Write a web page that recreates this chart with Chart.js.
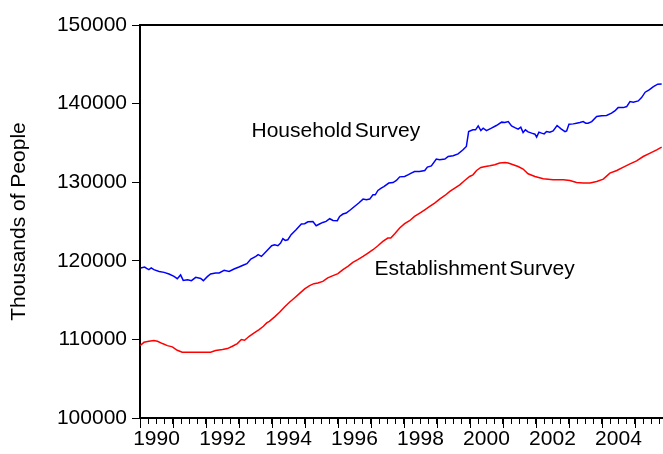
<!DOCTYPE html>
<html lang="en">
<head>
<meta charset="UTF-8">
<title>Household vs Establishment Survey</title>
<script src="https://cdn.jsdelivr.net/npm/chart.js"></script>
<style>
  html, body { margin:0; padding:0; background:#fff; }
  #wrap { width:663px; height:454px; position:relative; }
</style>
</head>
<body>
<div id="wrap"><canvas id="chart"></canvas></div>
<script>
// household survey (CPS), thousands of people
const householdDates = [
  1990.02, 1990.14, 1990.20, 1990.27, 1990.34, 1990.42, 1990.58, 1990.73, 1990.88,
  1991.03, 1991.13, 1991.23, 1991.31, 1991.44, 1991.56, 1991.69, 1991.84, 1991.92,
  1992.04, 1992.14, 1992.29, 1992.40, 1992.55, 1992.70, 1992.85,
  1993.00, 1993.14, 1993.24, 1993.36, 1993.51, 1993.58, 1993.68, 1993.86, 1993.99,
  1994.08, 1994.18, 1994.26, 1994.33, 1994.40, 1994.48, 1994.58, 1994.73, 1994.89, 1994.99,
  1995.09, 1995.24, 1995.34, 1995.44, 1995.54, 1995.64, 1995.75, 1995.85, 1995.98,
  1996.05, 1996.15, 1996.25, 1996.38, 1996.50, 1996.63, 1996.76, 1996.86, 1996.96,
  1997.06, 1997.13, 1997.21, 1997.31, 1997.39, 1997.54, 1997.67, 1997.77, 1997.87,
  1998.02, 1998.12, 1998.22, 1998.32, 1998.47, 1998.63, 1998.71, 1998.83, 1998.98,
  1999.08, 1999.24, 1999.34, 1999.49, 1999.64, 1999.79, 1999.89, 1999.96,
  2000.09, 2000.17, 2000.25, 2000.33, 2000.40, 2000.50, 2000.65, 2000.80, 2000.96,
  2001.06, 2001.16, 2001.26, 2001.36, 2001.46, 2001.54, 2001.61, 2001.68, 2001.76, 2001.87, 2001.97,
  2002.02, 2002.09, 2002.17, 2002.25, 2002.32, 2002.42, 2002.52, 2002.64, 2002.76, 2002.88, 2002.93,
  2003.00, 2003.13, 2003.23, 2003.33, 2003.43, 2003.51, 2003.58, 2003.69, 2003.84, 2003.99,
  2004.14, 2004.29, 2004.39, 2004.49, 2004.65, 2004.75, 2004.85, 2004.95,
  2005.10, 2005.20, 2005.31, 2005.43, 2005.56, 2005.69, 2005.81
];
const householdValues = [
  119090, 119210, 119040, 118870, 119090, 118870, 118650, 118530, 118320,
  118020, 117730, 118200, 117510, 117600, 117470, 117890, 117760, 117470,
  117980, 118320, 118450, 118450, 118780, 118650, 118960,
  119210, 119470, 119630, 120230, 120560, 120780, 120560, 121350, 121920,
  122050, 121920, 122260, 122810, 122590, 122680, 123320, 123950, 124680, 124720,
  124970, 125010, 124460, 124680, 124880, 125010, 125350, 125130, 125100,
  125640, 125950, 126070, 126490, 126910, 127350, 127850, 127760, 127850,
  128400, 128400, 128950, 129250, 129450, 129890, 129960, 130220, 130680,
  130730, 130940, 131160, 131360, 131360, 131490, 131920, 132080, 132940,
  132850, 132940, 133270, 133360, 133610, 134120, 134540, 136440,
  136660, 136660, 137170, 136570, 136870, 136570, 136870, 137210, 137640,
  137590, 137710, 137170, 136950, 136750, 137000, 136320, 136660, 136400, 136240, 136110,
  135730, 136370, 136240, 136150, 136440, 136370, 136530, 137210, 136790, 136440, 136530,
  137380, 137420, 137510, 137590, 137710, 137510, 137510, 137710, 138350, 138440,
  138480, 138780, 139070, 139490, 139490, 139620, 140250, 140180,
  140340, 140760, 141450, 141740, 142160, 142470, 142500
];

// establishment survey (payrolls), thousands of people
const establishmentDates = [
  1990.00, 1990.12, 1990.27, 1990.42, 1990.53, 1990.68, 1990.83, 1990.98,
  1991.13, 1991.28, 1991.44, 1991.64, 1991.84,
  1992.04, 1992.14, 1992.29, 1992.50, 1992.65, 1992.80, 1992.95,
  1993.07, 1993.17, 1993.31, 1993.46, 1993.61, 1993.74, 1993.84, 1993.92,
  1994.08, 1994.23, 1994.38, 1994.53, 1994.68, 1994.83, 1994.99,
  1995.14, 1995.27, 1995.39, 1995.54, 1995.69, 1995.85,
  1996.00, 1996.15, 1996.30, 1996.45, 1996.60, 1996.76, 1996.91,
  1997.06, 1997.21, 1997.36, 1997.51, 1997.60, 1997.72, 1997.87,
  1998.02, 1998.17, 1998.32, 1998.48, 1998.63, 1998.78, 1998.93,
  1999.08, 1999.24, 1999.39, 1999.54, 1999.69, 1999.84, 1999.99,
  2000.09, 2000.20, 2000.33, 2000.47, 2000.60, 2000.75, 2000.90,
  2001.06, 2001.16, 2001.31, 2001.46, 2001.61, 2001.76, 2001.97,
  2002.22, 2002.52, 2002.83, 2003.03, 2003.23, 2003.43, 2003.64, 2003.84,
  2004.04, 2004.24, 2004.45, 2004.65, 2004.85,
  2005.05, 2005.25, 2005.46, 2005.66, 2005.81
];
const establishmentValues = [
  109210, 109630, 109760, 109850, 109760, 109470, 109210, 109050,
  108620, 108360, 108360, 108360, 108360,
  108360, 108360, 108580, 108710, 108830, 109130, 109470,
  109980, 109890, 110400, 110830, 111250, 111670, 112100, 112300,
  112860, 113450, 114130, 114720, 115270, 115820, 116420,
  116840, 117090, 117180, 117380, 117820, 118110,
  118360, 118870, 119290, 119800, 120140, 120560, 120990,
  121410, 121920, 122470, 122900, 122900, 123440, 124170,
  124720, 125100, 125640, 126070, 126490, 126910, 127350,
  127850, 128310, 128820, 129250, 129670, 130220, 130730,
  130940, 131490, 131870, 132000, 132080, 132210, 132430,
  132500, 132430, 132210, 132000, 131670, 131070, 130730,
  130430, 130310, 130310, 130220, 129960, 129890, 129890, 130090,
  130390, 131160, 131490, 131920, 132340,
  132720, 133270, 133700, 134120, 134460
];

const yTicks = [100000, 110000, 120000, 130000, 140000, 150000];
const xLabelYears = [1990, 1992, 1994, 1996, 1998, 2000, 2002, 2004];
const xMin = 1990, xMax = 2005.85;

// text labels placed in data coordinates
const notes = [
  { text: 'Household Survey', x: 1993.38, y: 136530 },
  { text: 'Establishment Survey', x: 1997.11, y: 118870 }
];

const FONT = '"Liberation Sans", Arial, sans-serif';
Chart.defaults.font.family = FONT;
Chart.defaults.color = '#000';

const toPoints = (xs, ys) => xs.map((x, i) => ({ x, y: ys[i] }));

// year ticks are longer than quarter ticks
const yearTicks = {
  id: 'yearTicks',
  afterDraw(chart) {
    const sx = chart.scales.x, ctx = chart.ctx;
    const b = chart.chartArea.bottom;
    ctx.save();
    ctx.strokeStyle = '#000';
    ctx.lineWidth = 1;
    for (let yr = 1990; yr <= 2005; yr++) {
      const px = Math.round(sx.getPixelForValue(yr)) + 0.5;
      ctx.beginPath();
      ctx.moveTo(px, b);
      ctx.lineTo(px, b + 10);
      ctx.stroke();
    }
    ctx.restore();
  }
};

const noteLabels = {
  id: 'noteLabels',
  afterDatasetsDraw(chart) {
    const ctx = chart.ctx, sx = chart.scales.x, sy = chart.scales.y;
    ctx.save();
    ctx.font = '21px ' + FONT;
    ctx.fillStyle = '#000';
    ctx.textAlign = 'left';
    ctx.textBaseline = 'middle';
    if ('wordSpacing' in ctx) ctx.wordSpacing = '-3px';
    notes.forEach(n => ctx.fillText(n.text, sx.getPixelForValue(n.x), sy.getPixelForValue(n.y)));
    ctx.restore();
  }
};

new Chart(document.getElementById('chart'), {
  type: 'line',
  data: {
    datasets: [
      {
        label: 'Household Survey',
        data: toPoints(householdDates, householdValues),
        borderColor: '#0000ff',
        borderWidth: 1.5,
        pointRadius: 0,
        tension: 0
      },
      {
        label: 'Establishment Survey',
        data: toPoints(establishmentDates, establishmentValues),
        borderColor: '#ff0000',
        borderWidth: 1.5,
        pointRadius: 0,
        tension: 0
      }
    ]
  },
  options: {
    responsive: true,
    maintainAspectRatio: false,
    animation: false,
    layout: { padding: { top: 25, right: 0, bottom: 0, left: 0 } },
    plugins: { legend: { display: false }, tooltip: { enabled: false } },
    scales: {
      x: {
        type: 'linear',
        min: xMin,
        max: xMax,
        afterBuildTicks: s => {
          const t = [];
          for (let v = 1990; v <= 2005.75; v += 0.25) t.push({ value: v });
          s.ticks = t;
        },
        afterFit: s => { s.height = 36; },
        ticks: {
          autoSkip: false,
          maxRotation: 0,
          padding: 3,
          font: { size: 21 },
          callback: v => {
            const yr = Math.floor(v);
            return (v - yr === 0.5 && xLabelYears.includes(yr)) ? String(yr) : '';
          }
        },
        grid: { display: true, drawOnChartArea: false, drawTicks: true, tickLength: 6, color: '#000', lineWidth: 1 },
        border: { display: true, color: '#000', width: 2 }
      },
      xTop: {
        type: 'linear',
        position: 'top',
        min: xMin,
        max: xMax,
        afterFit: s => { s.height = 0; },
        ticks: { display: false },
        grid: { display: false },
        border: { display: true, color: '#000', width: 2 }
      },
      y: {
        type: 'linear',
        min: 100000,
        max: 150000,
        afterBuildTicks: s => { s.ticks = yTicks.map(v => ({ value: v })); },
        afterFit: s => { s.width = 140; },
        ticks: { padding: 5, font: { size: 21 }, callback: v => String(v) },
        grid: { display: true, drawOnChartArea: false, drawTicks: true, tickLength: 8, color: '#000', lineWidth: 1 },
        border: { display: true, color: '#000', width: 2 },
        title: { display: true, text: 'Thousands of People', font: { size: 21 }, padding: { top: 7, bottom: 0 } }
      }
    }
  },
  plugins: [yearTicks, noteLabels]
});
</script>
</body>
</html>
